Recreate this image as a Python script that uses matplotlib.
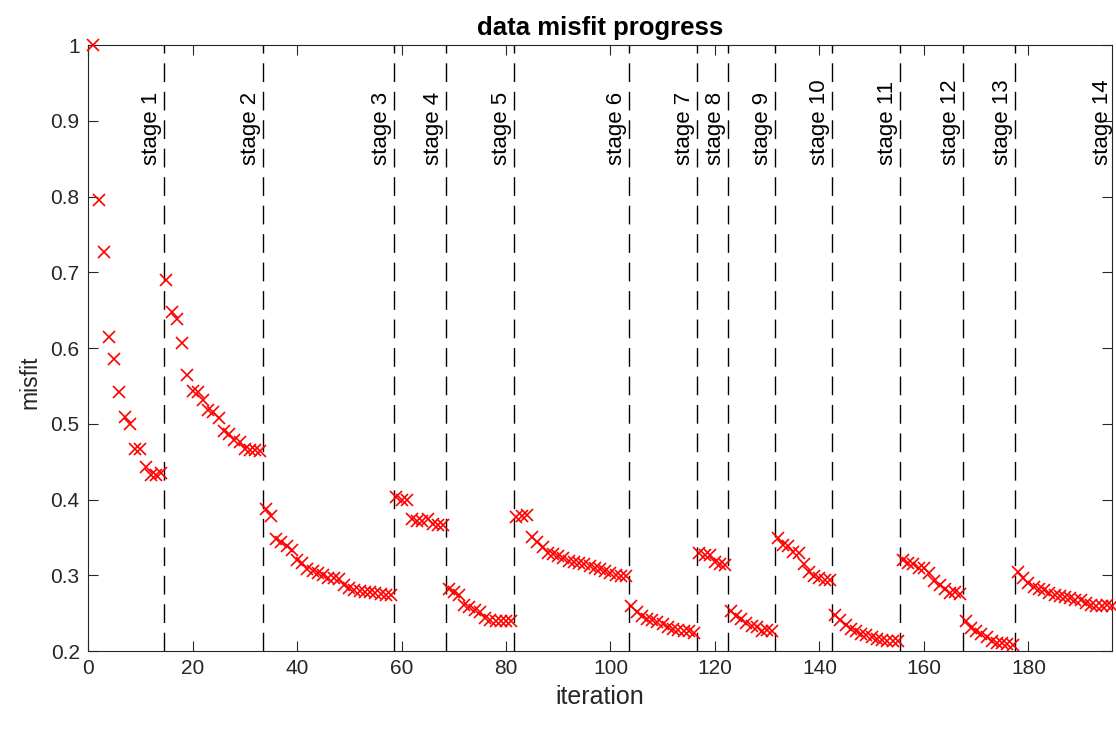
import numpy as np
import matplotlib
matplotlib.use('Agg')
import matplotlib.pyplot as plt

plt.rcParams['font.family'] = ['Liberation Sans', 'DejaVu Sans']

# misfit per iteration, grouped by stage
stage1 = [1.0, 0.796, 0.727, 0.615, 0.586, 0.542, 0.509, 0.500, 0.467, 0.467, 0.443, 0.433, 0.433, 0.435]
stage2 = [0.690, 0.647, 0.638, 0.607, 0.564, 0.543, 0.542, 0.532, 0.518, 0.515, 0.507, 0.490, 0.487,
          0.479, 0.476, 0.467, 0.465, 0.465, 0.464]
stage3 = [0.387, 0.378, 0.348, 0.344, 0.338, 0.333, 0.320, 0.316, 0.308, 0.306, 0.303, 0.301, 0.297,
          0.296, 0.295, 0.287, 0.283, 0.281, 0.279, 0.278, 0.278, 0.276, 0.275, 0.274, 0.274]
stage4 = [0.403, 0.400, 0.399, 0.374, 0.371, 0.372, 0.374, 0.368, 0.367, 0.367]
stage5 = [0.282, 0.278, 0.274, 0.261, 0.258, 0.254, 0.251, 0.243, 0.241, 0.240, 0.240, 0.240, 0.240]
stage6 = [0.377, 0.378, 0.380, 0.351, 0.344, 0.337, 0.330, 0.328, 0.325, 0.323, 0.319, 0.317, 0.316,
          0.315, 0.312, 0.310, 0.308, 0.305, 0.303, 0.301, 0.299, 0.299]
stage7 = [0.260, 0.252, 0.246, 0.242, 0.241, 0.238, 0.236, 0.232, 0.229, 0.228, 0.227, 0.226, 0.224]
stage8 = [0.329, 0.327, 0.327, 0.317, 0.315, 0.314]
stage9 = [0.253, 0.246, 0.242, 0.237, 0.233, 0.232, 0.227, 0.228, 0.227]
stage10 = [0.349, 0.340, 0.338, 0.331, 0.329, 0.315, 0.304, 0.299, 0.296, 0.294, 0.294]
stage11 = [0.248, 0.241, 0.235, 0.229, 0.226, 0.222, 0.221, 0.218, 0.216, 0.215, 0.213, 0.213, 0.213]
stage12 = [0.320, 0.316, 0.315, 0.309, 0.309, 0.303, 0.293, 0.287, 0.282, 0.276, 0.278, 0.275]
stage13 = [0.240, 0.230, 0.226, 0.222, 0.218, 0.213, 0.210, 0.210, 0.209, 0.208]
stage14 = [0.304, 0.296, 0.290, 0.285, 0.282, 0.280, 0.276, 0.274, 0.273, 0.271, 0.270, 0.268, 0.268,
           0.263, 0.261, 0.259, 0.260, 0.261, 0.259]

stages = [stage1, stage2, stage3, stage4, stage5, stage6, stage7,
          stage8, stage9, stage10, stage11, stage12, stage13, stage14]
stage_names = ['stage %d' % (k + 1) for k in range(len(stages))]

misfit = np.concatenate(stages)
iteration = np.arange(1, len(misfit) + 1)
stage_end = np.cumsum([len(s) for s in stages])  # last iteration of each stage

axcol = (0.15, 0.15, 0.15)

fig = plt.figure(figsize=(11.16, 7.31), dpi=100)
ax = fig.add_axes([0.0789, 0.1094, 0.9175, 0.829])

ax.plot(iteration, misfit, 'x', color='red', markersize=8, markeredgewidth=1.2, clip_on=False, zorder=3)

for k, e in enumerate(stage_end):
    xb = e + 0.5
    if k < len(stage_end) - 1:
        ax.axvline(xb, color='black', linewidth=1.0, dashes=(13.5, 7), zorder=2)
    ax.text(xb - 0.4, 0.842, stage_names[k], rotation=90, rotation_mode='anchor',
            ha='left', va='bottom', fontsize=16, color='black')

ax.set_xlim(0, len(misfit))
ax.set_ylim(0.2, 1.0)
ax.set_xticks(np.arange(0, 181, 20))
ax.set_yticks(np.arange(0.2, 1.01, 0.1))
ax.set_yticklabels(['0.2', '0.3', '0.4', '0.5', '0.6', '0.7', '0.8', '0.9', '1'])

ax.tick_params(direction='in', length=7, width=0.8, colors=axcol, labelsize=15,
               top=True, right=True, pad=6)
for sp in ax.spines.values():
    sp.set_color(axcol)
    sp.set_linewidth(0.8)

ax.set_xlabel('iteration', fontsize=18, color=axcol, labelpad=5)
ax.set_ylabel('misfit', fontsize=16.5, color=axcol, labelpad=8)
ax.yaxis.set_label_coords(-0.046, 0.444)
ax.set_title('data misfit progress', fontsize=18.5, fontweight='bold', color='black', pad=7)

fig.savefig('out.png', dpi=100)
